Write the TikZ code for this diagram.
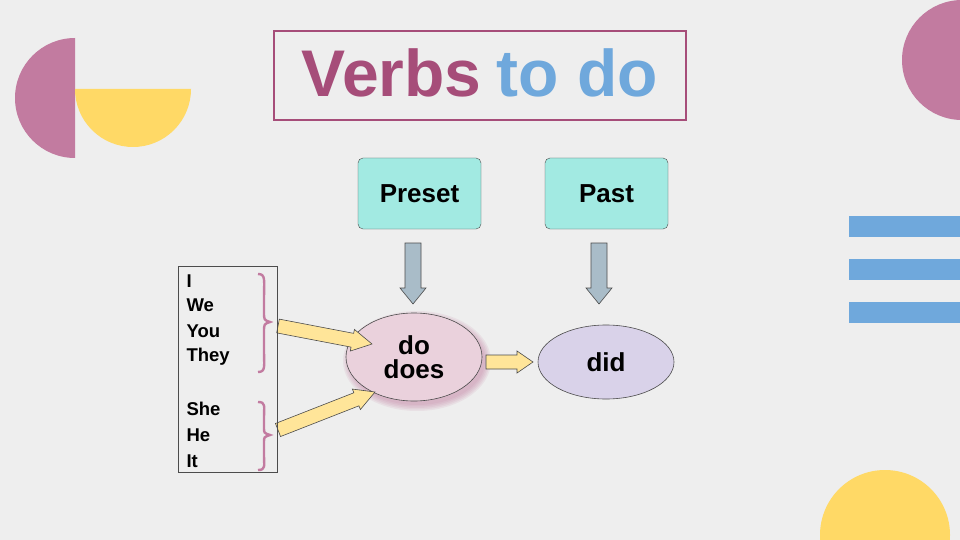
\documentclass[tikz,border=0pt]{standalone}
\usepackage{fontspec}
\setmainfont{Liberation Sans}
\usetikzlibrary{calc,shapes.geometric}
\definecolor{bg}{HTML}{EEEEEE}
\definecolor{mag}{HTML}{A64D79}
\definecolor{pinkd}{HTML}{C27BA0}
\definecolor{blu}{HTML}{6FA8DC}
\definecolor{yel}{HTML}{FFD966}
\definecolor{teal}{HTML}{A2EAE2}
\definecolor{pinkf}{HTML}{EAD1DC}
\definecolor{lav}{HTML}{D9D2E9}
\definecolor{arrg}{HTML}{A9BCC8}
\definecolor{arry}{HTML}{FFE599}
\newcommand\blockarr[6]{%
\path (#1) coordinate (BAs) (#2) coordinate (BAe);
\path ($(BAe)!#5!(BAs)$) coordinate (BAm);
\draw[fill=#6, draw=gray!60!black, line width=0.6pt]
 ($(BAs)!#3!90:(BAe)$) -- ($(BAm)!#3!-90:(BAs)$) -- ($(BAm)!#4!-90:(BAs)$) -- (BAe)
 -- ($(BAm)!#4!90:(BAs)$) -- ($(BAm)!#3!90:(BAs)$) -- ($(BAs)!#3!-90:(BAe)$) -- cycle;}
\tikzset{
 lab/.style={font=\bfseries\fontsize{26}{27}\selectfont},
 tbox/.style={draw=gray!60!black, fill=teal, rounded corners=5pt, minimum width=123pt, minimum height=71pt, lab},
 ell/.style={ellipse, draw=gray!60!black, line width=0.6pt, lab, align=center},
 lst/.style={anchor=west, font=\bfseries\fontsize{18.5}{20}\selectfont},
 brace/.style={draw=pinkd, line width=2.4pt},
}
\begin{document}
\begin{tikzpicture}[x=1pt,y=-1pt]
\fill[bg] (0,0) rectangle (960,540);
\useasboundingbox (0,0) rectangle (960,540);
% decorations
\fill[pinkd] (75,38) arc (-90:-270:60) -- cycle;
\fill[yel] (75,89) arc (180:0:58) -- cycle;
\fill[pinkd] (962,60) circle (60);
\fill[yel] (885,535) circle (65);
\foreach \y in {216,259,302} \fill[blu] (849,\y) rectangle (960,\y+21);
% title
\draw[mag, line width=2pt] (274,31) rectangle (686,120);
\node (title) at (480,73) {\fontsize{66}{70}\bfseries\selectfont\color{mag}Verbs\hspace{-3pt} \color{blu}to do};
% boxes
\node[tbox] (pre) at (419.5,193.5) {Preset};
\node[tbox] (past) at (606.5,193.5) {Past};
\foreach \r in {0,1.5,3,4.5,6}
  \fill[pinkd, opacity=0.12] (417,361) ellipse ({68+\r} and {44+\r});
\node[ell, fill=pinkf, minimum width=136pt, minimum height=88pt] (do) at (414,357) {do\\[-3pt]does};
\node[ell, fill=lav, minimum width=136pt, minimum height=74pt] (did) at (606,362) {did};
% arrows
\coordinate (p1) at (413,243); \coordinate (p2) at (413,304);
\blockarr{p1}{p2}{8pt}{13pt}{16pt}{arrg}
\coordinate (q1) at (599,243); \coordinate (q2) at (599,304);
\blockarr{q1}{q2}{8pt}{13pt}{16pt}{arrg}
\coordinate (r1) at (486,362); \coordinate (r2) at (533,362);
\blockarr{r1}{r2}{7pt}{11pt}{16pt}{arry}
\coordinate (s1) at (278,326); \coordinate (s2) at (372,344);
\blockarr{s1}{s2}{7pt}{11pt}{20pt}{arry}
\coordinate (t1) at (278,430); \coordinate (t2) at (375,392);
\blockarr{t1}{t2}{7pt}{11pt}{20pt}{arry}
% list box
\draw[gray!60!black, line width=0.7pt] (178,266) rectangle (277,472);
\foreach \t/\y [count=\i] in {I/281,We/305,You/331,They/357,She/409,He/435,It/461}
  \node[lst] (w\i) at (183,\y) {\t};
\draw[brace] (258,274) .. controls (266,274) and (264,280) .. (264,300) -- (264,312) .. controls (264,320) .. (270,322) .. controls (264,324) .. (264,332) -- (264,350) .. controls (264,366) and (266,372) .. (258,372);
\draw[brace] (258,402) .. controls (266,402) and (264,406) .. (264,418) -- (264,428) .. controls (264,433) .. (270,435) .. controls (264,437) .. (264,442) -- (264,455) .. controls (264,466) and (266,470) .. (258,470);
\end{tikzpicture}
\end{document}
